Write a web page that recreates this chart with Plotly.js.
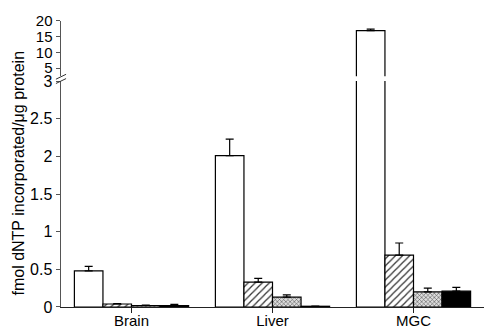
<!DOCTYPE html>
<html><head><meta charset="utf-8">
<script src="https://cdn.plot.ly/plotly-3.0.1.min.js"></script>
<style>html,body{margin:0;padding:0;background:#fff}</style>
</head><body><div id="c" style="width:484px;height:329px"></div>
<script>
const categories = ["Brain", "Liver", "MGC"];
const whiteVals = [0.48, 2.01, 16.9];
const whiteErr = [0.06, 0.22, 0.5];
const hatchVals = [0.04, 0.33, 0.69];
const hatchErr = [0.005, 0.05, 0.16];
const crossVals = [0.02, 0.13, 0.20];
const crossErr = [0.005, 0.03, 0.05];
const blackVals = [0.02, 0.01, 0.21];
const blackErr = [0.015, 0.003, 0.05];
const lowerTicks = [0, 0.5, 1, 1.5, 2, 2.5, 3];
const lowerTickText = ["0", "0.5", "1", "1.5", "2", "2.5", "3"];
const upperTicks = [5, 10, 15, 20];
const yTitle = "fmol dNTP incorporated/\u03bcg protein";
const lowerMax = 3;

const series = [
  {v: whiteVals, e: whiteErr, color: "#fff", pattern: null},
  {v: hatchVals, e: hatchErr, color: "#fff", pattern: {shape: "/", size: 5, solidity: 0.25, fgcolor: "#333", bgcolor: "#fff"}},
  {v: crossVals, e: crossErr, color: "#fff", pattern: {shape: "x", size: 3, solidity: 0.35, fgcolor: "#555", bgcolor: "#ddd"}},
  {v: blackVals, e: blackErr, color: "#000", pattern: null}
];
const traces = [];
["y", "y2"].forEach(ya => {
  series.forEach(s => {
    const m = {color: s.color, line: {color: "#000", width: 1.2}};
    if (s.pattern) m.pattern = s.pattern;
    const yv = ya === "y" ? s.v : s.v.map(x => x > lowerMax ? x : null);
    traces.push({
      type: "bar", x: categories, y: yv, yaxis: ya, xaxis: "x",
      marker: m, showlegend: false, hoverinfo: "skip",
      error_y: {type: "data", symmetric: false, array: s.e, arrayminus: s.e.map(() => 0), color: "#000", thickness: 1.2, width: 4}
    });
  });
});

const layout = {
  width: 484, height: 329,
  margin: {l: 61, r: 0, t: 0, b: 22},
  paper_bgcolor: "#fff", plot_bgcolor: "#fff",
  barmode: "group", bargap: 0.19, bargroupgap: 0,
  font: {family: "Liberation Sans, Arial, sans-serif", size: 16, color: "#000"},
  xaxis: {range: [-0.5, 2.5], showline: true, linecolor: "#222", linewidth: 1.2,
    ticks: "outside", ticklen: 5, tickcolor: "#222", showgrid: false, zeroline: false,
    tickfont: {size: 15}, anchor: "y", ticklabelstandoff: -5},
  yaxis: {domain: [0, 0.736], range: [0, 3], tickvals: lowerTicks, ticktext: lowerTickText,
    showline: true, linecolor: "#555", linewidth: 1.5, ticks: "outside", ticklen: 4, tickcolor: "#555",
    showgrid: false, zeroline: false, tickfont: {size: 16}, anchor: "x"},
  yaxis2: {domain: [0.752, 0.932], range: [2.45, 20], tickvals: upperTicks,
    showline: true, linecolor: "#555", linewidth: 1.5, ticks: "outside", ticklen: 4, tickcolor: "#555",
    showgrid: false, zeroline: false, tickfont: {size: 15}, anchor: "x"},
  annotations: [{text: yTitle, xref: "paper", yref: "paper", x: -0.1, y: 0.437,
    textangle: -90, showarrow: false, font: {size: 16}, xanchor: "center", yanchor: "middle"}],
  shapes: [
    {type: "line", xref: "paper", yref: "paper", x0: -0.012, x1: 0.012, y0: 0.742, y1: 0.758, line: {color: "#333", width: 1}},
    {type: "line", xref: "paper", yref: "paper", x0: -0.012, x1: 0.012, y0: 0.728, y1: 0.744, line: {color: "#333", width: 1}}
  ]
};
Plotly.newPlot("c", traces, layout, {staticPlot: true});
</script></body></html>
